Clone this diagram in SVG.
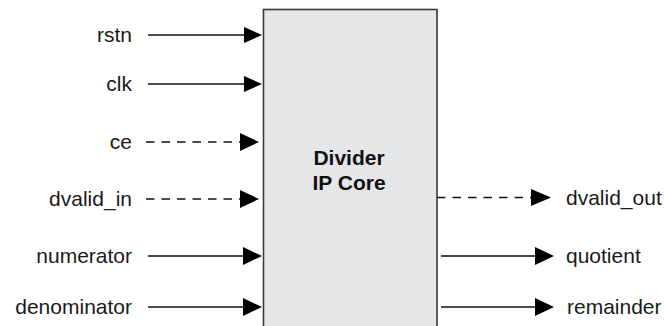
<svg xmlns="http://www.w3.org/2000/svg" width="664" height="326" viewBox="0 0 664 326">
<defs>
<style>
.lbl{font-family:"Liberation Sans",Arial,sans-serif;font-size:21px;fill:#1a1a1a}
.ttl{font-family:"Liberation Sans",Arial,sans-serif;font-size:21px;font-weight:bold;fill:#111;text-anchor:middle}
.w{stroke:#111;stroke-width:1.6;fill:none}
.d{stroke-dasharray:8.5 7}
.ah{fill:#000}
</style>
</defs>
<rect width="664" height="326" fill="#fff"/>
<g id="divider-core">
<rect x="263.5" y="9.5" width="173.5" height="330" fill="#e5e6e8" stroke="#3a3a3a" stroke-width="1.6"/>
<text class="ttl" x="349" y="165">Divider</text>
<text class="ttl" x="349" y="190">IP Core</text>
</g>
<g id="labels-in" class="lbl" text-anchor="end">
<text x="132" y="42">rstn</text>
<text x="132" y="91">clk</text>
<text x="132" y="149">ce</text>
<text x="132" y="206">dvalid_in</text>
<text x="132" y="263">numerator</text>
<text x="132" y="314">denominator</text>
</g>
<g id="labels-out" class="lbl">
<text x="566" y="205">dvalid_out</text>
<text x="566" y="263">quotient</text>
<text x="567" y="314">remainder</text>
</g>
<g id="connectors">
<line class="w" x1="148" y1="35" x2="246" y2="35"/>
<polygon class="ah" points="244,27 262,35 244,43"/>
<line class="w" x1="148" y1="84" x2="246" y2="84"/>
<polygon class="ah" points="244,76 262,84 244,92"/>
<line class="w d" x1="146" y1="142" x2="240" y2="142"/>
<polygon class="ah" points="240,133 259,142 240,151"/>
<line class="w d" x1="146" y1="199" x2="240" y2="199"/>
<polygon class="ah" points="240,190 259,199 240,208"/>
<line class="w" x1="148" y1="256" x2="246" y2="256"/>
<polygon class="ah" points="243,247 262,256 243,265"/>
<line class="w" x1="148" y1="307" x2="246" y2="307"/>
<polygon class="ah" points="243,298 262,307 243,316"/>
<line class="w d" x1="437" y1="197.5" x2="531" y2="197.5"/>
<polygon class="ah" points="531,189 551,197.5 531,206"/>
<line class="w" x1="441" y1="256" x2="537" y2="256"/>
<polygon class="ah" points="535,247 554,256 535,265"/>
<line class="w" x1="441" y1="307" x2="537" y2="307"/>
<polygon class="ah" points="535,298 554,307 535,316"/>
</g>
</svg>
